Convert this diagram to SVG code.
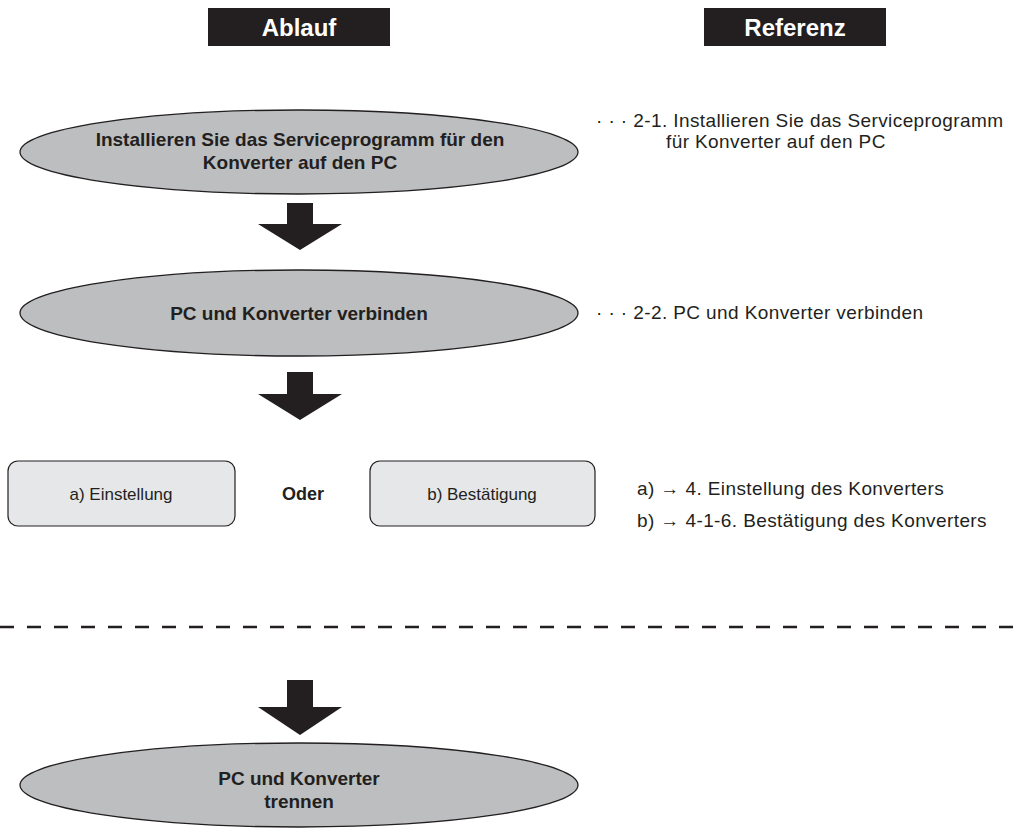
<svg xmlns="http://www.w3.org/2000/svg" width="1013" height="833" viewBox="0 0 1013 833">
<style>
.hdr{fill:#231f20}
.hdrt{font-family:"Liberation Sans",Arial,sans-serif;font-weight:bold;font-size:24px;fill:#fff;text-anchor:middle}
.ell{fill:#bcbec0;stroke:#231f20;stroke-width:1.3}
.et{font-family:"Liberation Sans",Arial,sans-serif;font-weight:bold;font-size:19px;fill:#231f20;text-anchor:middle}
.box{fill:#e6e7e8;stroke:#231f20;stroke-width:1.2}
.bt{font-family:"Liberation Sans",Arial,sans-serif;font-size:17px;fill:#231f20;text-anchor:middle}
.ref{font-family:"Liberation Sans",Arial,sans-serif;font-size:19px;letter-spacing:0.4px;fill:#231f20}
.arr{fill:#231f20}
</style>
<rect width="1013" height="833" fill="#fff"/>
<g id="hdr-ablauf"><rect class="hdr" x="208" y="8" width="182" height="38"/><text class="hdrt" x="299" y="36">Ablauf</text></g>
<g id="hdr-referenz"><rect class="hdr" x="704" y="8" width="182" height="38"/><text class="hdrt" x="795" y="36">Referenz</text></g>
<g id="n1"><ellipse class="ell" cx="299" cy="152" rx="279" ry="42"/><text class="et" x="300" y="146">Installieren Sie das Serviceprogramm für den</text><text class="et" x="300" y="169">Konverter auf den PC</text></g>
<g id="n2"><ellipse class="ell" cx="299" cy="313" rx="279" ry="43"/><text class="et" x="299" y="320">PC und Konverter verbinden</text></g>
<g id="n3a"><rect class="box" x="8" y="461" width="227" height="65" rx="10"/><text class="bt" x="121" y="500">a) Einstellung</text></g>
<g id="oder"><text class="et" x="303" y="500" style="font-size:18px">Oder</text></g>
<g id="n3b"><rect class="box" x="370" y="461" width="225" height="65" rx="10"/><text class="bt" x="482" y="500">b) Bestätigung</text></g>
<g id="n4"><ellipse class="ell" cx="299" cy="785" rx="279" ry="42"/><text class="et" x="299" y="785">PC und Konverter</text><text class="et" x="299" y="808">trennen</text></g>
<g id="refs">
<text class="ref" x="596" y="127">· · · 2-1. Installieren Sie das Serviceprogramm</text>
<text class="ref" x="666" y="148">für Konverter auf den PC</text>
<text class="ref" x="596" y="319">· · · 2-2. PC und Konverter verbinden</text>
<text class="ref" x="637" y="495">a) → 4. Einstellung des Konverters</text>
<text class="ref" x="637" y="527">b) → 4-1-6. Bestätigung des Konverters</text>
</g>
<g id="connectors">
<polygon class="arr" points="287,203 313,203 313,224 342,224 300,250 258,224 287,224"/>
<polygon class="arr" points="287,372 313,372 313,394 342,394 300,420 258,394 287,394"/>
<polygon class="arr" points="287,680 313,680 313,707 342,707 300,735 258,707 287,707"/>
<line x1="0" y1="627" x2="1013" y2="627" stroke="#231f20" stroke-width="2.5" stroke-dasharray="14 13"/>
</g>
</svg>
